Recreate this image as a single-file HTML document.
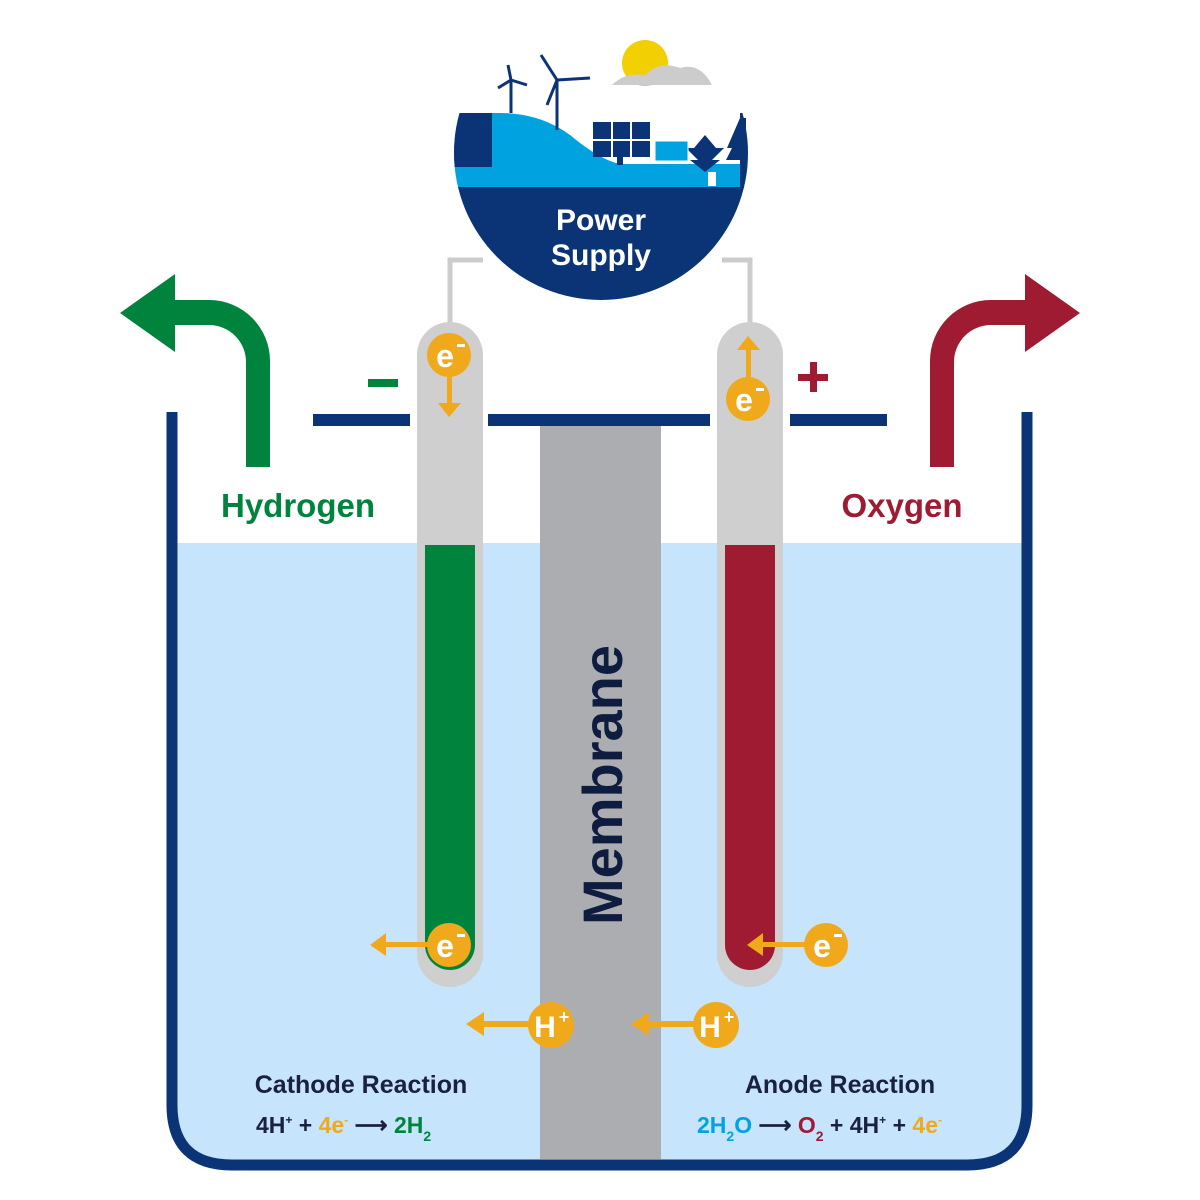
<!DOCTYPE html>
<html><head><meta charset="utf-8"><style>
html,body{margin:0;padding:0;background:#fff;}
svg{display:block;font-family:"Liberation Sans",sans-serif;}
</style></head><body>
<svg width="1200" height="1200" viewBox="0 0 1200 1200">
  <defs><clipPath id="ps"><path d="M453,113 H749 V300 H453 Z"/></clipPath><clipPath id="circ"><circle cx="601" cy="153" r="147"/></clipPath></defs>
  <g>
    <path d="M177,543 H1022 V1105 Q1022,1160 967,1160 H232 Q177,1160 177,1105 Z" fill="#c6e4fb"/>
    <path d="M172,412 V1105 Q172,1165 232,1165 H967 Q1027,1165 1027,1105 V412" fill="none" stroke="#0b3477" stroke-width="11"/>
    <rect x="313" y="414" width="97" height="12" fill="#0b3477"/>
    <rect x="488" y="414" width="222" height="12" fill="#0b3477"/>
    <rect x="790" y="414" width="97" height="12" fill="#0b3477"/>
  </g>
  <g>
    <rect x="540" y="426" width="121" height="733" fill="#acadb0"/>
    <text x="0" y="0" transform="translate(622,785) rotate(-90)" text-anchor="middle" font-size="56" font-weight="bold" fill="#0e1c3f">Membrane</text>
  </g>
  <g fill="none" stroke="#cccccc" stroke-width="5">
    <path d="M450,322 V260 H483"/>
    <path d="M750,322 V260 H722"/>
  </g>
  <g>
    <rect x="417" y="322" width="66" height="665" rx="33" fill="#cfcfd0"/>
    <path d="M425,545 H475 V945 A25,25 0 0 1 425,945 Z" fill="#00843d"/>
  </g>
  <g>
    <rect x="717" y="322" width="66" height="665" rx="33" fill="#cfcfd0"/>
    <path d="M725,545 H775 V945 A25,25 0 0 1 725,945 Z" fill="#9e1b32"/>
  </g>
  <g>
    <g clip-path="url(#ps)"><g clip-path="url(#circ)">
      <rect x="440" y="186" width="320" height="130" fill="#0b3477"/>
      <path d="M440,113 H500 Q540,113 570,135 Q600,160 620,164 H760 V187 H440 Z" fill="#00a3e0"/>
      <rect x="440" y="113" width="52" height="54" fill="#0b3477"/>
      <rect x="740" y="113" width="20" height="75" fill="#0b3477"/>
    </g></g>
    <g fill="#0b3477">
      <rect x="593" y="122" width="57" height="35"/>
      <rect x="617" y="155" width="6" height="10"/>
      <polygon points="705,172 690,160 698,160 686,148 694,148 705,135 716,148 724,148 712,160 720,160"/>
      <polygon points="742,160 726,160 732,148 727,148 740,118 746,118 746,160"/>
    </g>
    <g stroke="#fff" stroke-width="2"><line x1="612" y1="122" x2="612" y2="157"/><line x1="631" y1="122" x2="631" y2="157"/><line x1="593" y1="140" x2="650" y2="140"/></g>
    <rect x="655" y="141" width="33" height="20" fill="#00a3e0" stroke="#fff" stroke-width="1"/>
    <rect x="708" y="172" width="8" height="14" fill="#fff"/>
    <g stroke="#0b3477" stroke-width="3" fill="none">
      <line x1="511" y1="113" x2="511" y2="80"/><path d="M511,80 L508,65 M511,80 L498,88 M511,80 L527,85"/>
      <line x1="557" y1="130" x2="557" y2="80"/><path d="M557,80 L541,55 M557,80 L590,78 M557,80 L547,105"/>
    </g>
    <circle cx="645" cy="63" r="23" fill="#f2cf00"/>
    <path d="M612,85 Q625,72 645,75 Q660,60 680,68 Q700,62 712,85 Z" fill="#cccccc"/>
    <text x="601" y="230" text-anchor="middle" font-size="30" font-weight="bold" fill="#fff">Power</text>
    <text x="601" y="265" text-anchor="middle" font-size="30" font-weight="bold" fill="#fff">Supply</text>
  </g>
  <path d="M246,467 V362 A37,37 0 0 0 209,325 H175 V352 L120,313 L175,274 V300 H209 A61,61 0 0 1 270,361 V467 Z" fill="#00843d"/>
  <path d="M954,467 V362 A37,37 0 0 1 991,325 H1025 V352 L1080,313 L1025,274 V300 H991 A61,61 0 0 0 930,361 V467 Z" fill="#9e1b32"/>
  <text x="298" y="517" text-anchor="middle" font-size="33" font-weight="bold" fill="#00843d">Hydrogen</text>
  <text x="902" y="517" text-anchor="middle" font-size="33" font-weight="bold" fill="#9e1b32">Oxygen</text>
  <rect x="368" y="379" width="30" height="8" fill="#00843d"/>
  <g fill="#9e1b32"><rect x="798" y="374" width="30" height="7"/><rect x="810" y="362" width="7" height="30"/></g>
  <g fill="#f0a91b">
    <rect x="447" y="372" width="5" height="33"/><polygon points="438,403 461,403 449,417"/>
    <rect x="746" y="348" width="5" height="33"/><polygon points="737,350 760,350 748,336"/>
    <rect x="385" y="942" width="45" height="5"/><polygon points="386,933 386,956 370,945"/>
    <rect x="762" y="942" width="45" height="5"/><polygon points="763,933 763,956 747,945"/>
    <rect x="482" y="1021" width="50" height="6"/><polygon points="484,1012 484,1036 466,1024"/>
    <rect x="647" y="1021" width="50" height="6"/><polygon points="649,1012 649,1036 631,1024"/>
  </g>
  <g font-weight="bold" fill="#fff">
    <circle cx="449" cy="355" r="22" fill="#f0a91b"/><text x="445" y="367" text-anchor="middle" font-size="32" fill="#fff">e</text><rect x="457" y="344" width="8" height="3" fill="#fff"/>
    <circle cx="748" cy="399" r="22" fill="#f0a91b"/><text x="744" y="411" text-anchor="middle" font-size="32" fill="#fff">e</text><rect x="756" y="388" width="8" height="3" fill="#fff"/>
    <circle cx="449" cy="945" r="22" fill="#f0a91b"/><text x="445" y="957" text-anchor="middle" font-size="32" fill="#fff">e</text><rect x="457" y="934" width="8" height="3" fill="#fff"/>
    <circle cx="826" cy="945" r="22" fill="#f0a91b"/><text x="822" y="957" text-anchor="middle" font-size="32" fill="#fff">e</text><rect x="834" y="934" width="8" height="3" fill="#fff"/>
    <circle cx="551" cy="1025" r="23" fill="#f0a91b"/><text x="545" y="1037" text-anchor="middle" font-size="30" fill="#fff">H</text><text x="564" y="1023" text-anchor="middle" font-size="18" fill="#fff">+</text>
    <circle cx="716" cy="1025" r="23" fill="#f0a91b"/><text x="710" y="1037" text-anchor="middle" font-size="30" fill="#fff">H</text><text x="729" y="1023" text-anchor="middle" font-size="18" fill="#fff">+</text>
  </g>
  <text x="361" y="1093" text-anchor="middle" font-size="25" font-weight="bold" fill="#1a2040">Cathode Reaction</text>
  <text x="256" y="1133" font-size="23" font-weight="bold" fill="#1a2040">4H<tspan font-size="12" dy="-9">+</tspan><tspan dy="9"> + </tspan><tspan fill="#f0a91b">4e<tspan font-size="12" dy="-9">-</tspan></tspan><tspan dy="9"> ⟶ </tspan><tspan fill="#00843d">2H<tspan font-size="14" dy="8">2</tspan></tspan></text>
  <text x="840" y="1093" text-anchor="middle" font-size="25" font-weight="bold" fill="#1a2040">Anode Reaction</text>
  <text x="697" y="1133" font-size="23" font-weight="bold" fill="#1a2040"><tspan fill="#00a3e0">2H<tspan font-size="14" dy="8">2</tspan><tspan dy="-8">O</tspan></tspan> ⟶ <tspan fill="#9e1b32">O<tspan font-size="14" dy="8">2</tspan></tspan><tspan dy="-8"> + 4H</tspan><tspan font-size="12" dy="-9">+</tspan><tspan dy="9"> + </tspan><tspan fill="#f0a91b">4e<tspan font-size="12" dy="-9">-</tspan></tspan></text>
</svg>
</body></html>
